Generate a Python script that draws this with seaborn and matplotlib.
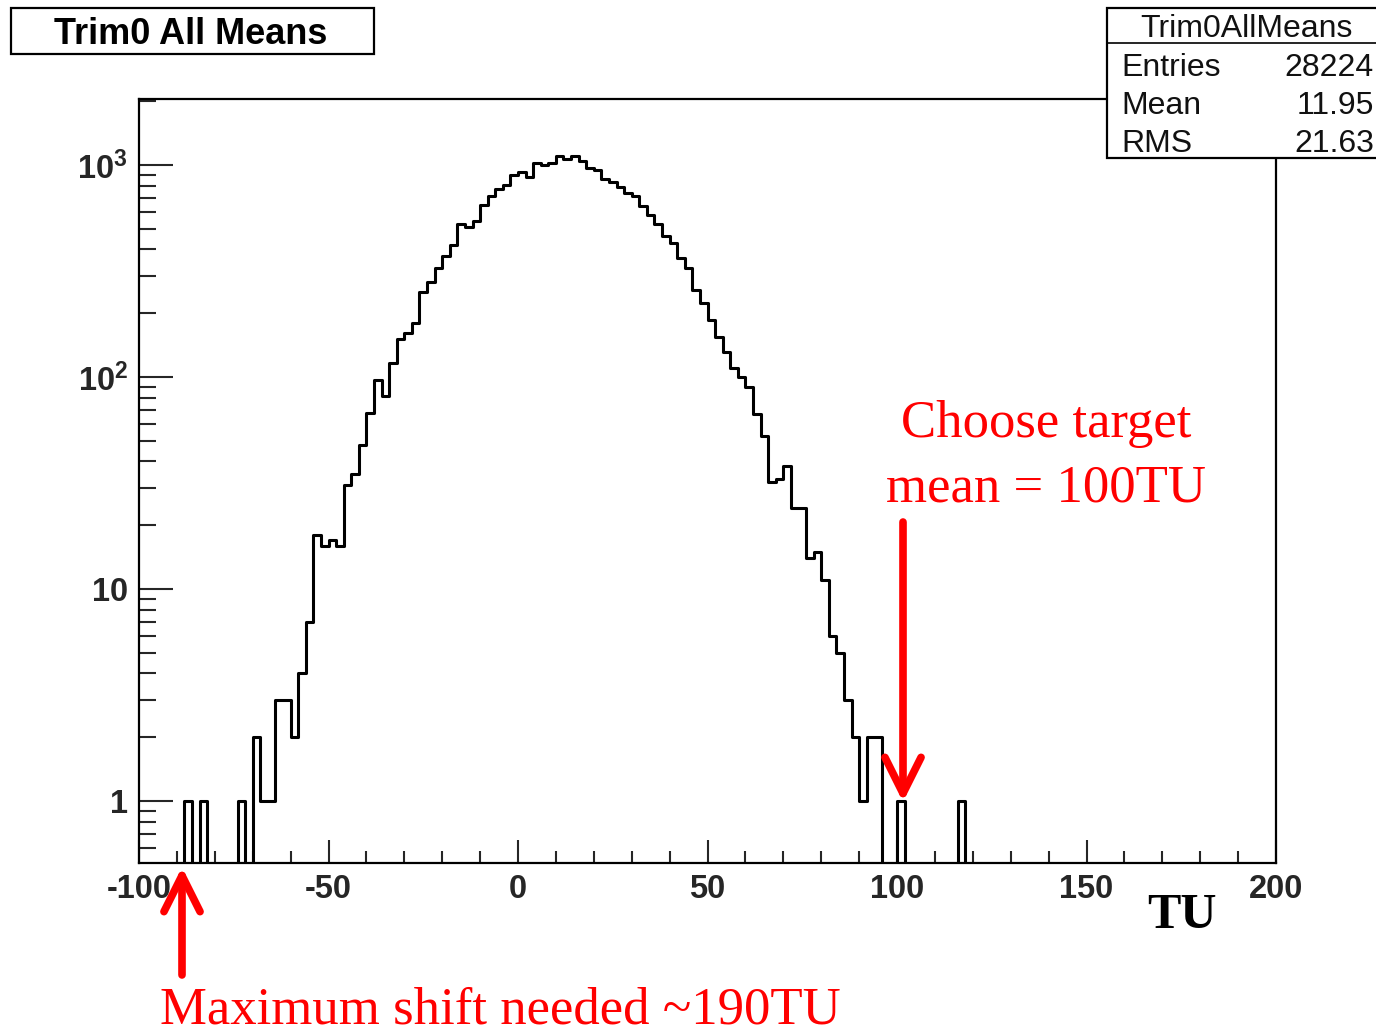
import numpy as np
import pandas as pd
import matplotlib
matplotlib.use("Agg")
import matplotlib.pyplot as plt
import seaborn as sns
from matplotlib.patches import Rectangle
from matplotlib.lines import Line2D
from matplotlib.ticker import FixedLocator, FixedFormatter, LogLocator, MultipleLocator, NullFormatter

# ---------------- data ----------------
x_min, x_max, bin_width = -100, 200, 2
# left edges of non-empty bins and their counts
bin_starts = [-88, -84, -74, -70, -68, -66, -64, -62, -60, -58, -56, -54, -52, -50, -48,
              -46, -44, -42, -40, -38, -36, -34, -32, -30, -28, -26, -24, -22, -20, -18,
              -16, -14, -12, -10, -8, -6, -4, -2, 0, 2, 4, 6, 8, 10, 12, 14, 16, 18, 20,
              22, 24, 26, 28, 30, 32, 34, 36, 38, 40, 42, 44, 46, 48, 50, 52, 54, 56, 58,
              60, 62, 64, 66, 68, 70, 72, 74, 76, 78, 80, 82, 84, 86, 88, 90, 92, 94,
              100, 116]
bin_counts = [1, 1, 1, 2, 1, 1, 3, 3, 2, 4, 7, 18, 16, 17, 16,
              31, 35, 48, 68, 97, 81, 116, 152, 161, 179, 253, 280, 328, 371, 419,
              527, 512, 544, 646, 714, 768, 808, 900, 924, 875, 1019, 1000, 1019, 1102, 1067, 1102, 1048, 968, 947,
              857, 829, 790, 735, 714, 643, 581, 527, 462, 430, 363, 326, 258, 224, 186, 155, 131, 110, 100,
              90, 67, 53, 32, 33, 38, 24, 24, 14, 15, 11, 6, 5, 3, 2, 1, 2, 2,
              1, 1]

hist_name = "Trim0AllMeans"
title = "Trim0 All Means"
stat_labels = ["Entries", "Mean", "RMS"]
stat_values = ["28224", "11.95", "21.63"]
x_ticks = [-100, -50, 0, 50, 100, 150, 200]
y_ticks = [1, 10, 100, 1000]
y_tick_labels = [r"$\mathbf{1}$", r"$\mathbf{10}$", r"$\mathbf{10^{2}}$", r"$\mathbf{10^{3}}$"]
note_target_1 = "Choose target"
note_target_2 = "mean = 100TU"
note_shift = "Maximum shift needed ~190TU"
x_unit = "TU"

df = pd.DataFrame({"x": np.array(bin_starts, dtype=float) + bin_width / 2,
                   "w": np.array(bin_counts, dtype=float)})

# ---------------- figure ----------------
W, H = 1376, 1033
sns.set_style("white")
plt.rcParams["font.family"] = ["Liberation Sans", "DejaVu Sans"]
plt.rcParams["mathtext.fontset"] = "custom"
plt.rcParams["mathtext.rm"] = "Liberation Sans"
plt.rcParams["mathtext.bf"] = "Liberation Sans:bold"

fig = plt.figure(figsize=(W / 100, H / 100), dpi=100)
fig.patch.set_facecolor("white")
L, R, T, B = 139, 1276, 99, 863
ax = fig.add_axes([L / W, 1 - B / H, (R - L) / W, (B - T) / H])

sns.histplot(data=df, x="x", weights="w", binwidth=bin_width, binrange=(x_min, x_max),
             element="step", fill=False, color="black", linewidth=2.2, ax=ax)
ax.set_yscale("log")
ax.set_xlim(x_min, x_max)
ax.set_ylim(0.51, 2050)
ax.set_xlabel("")
ax.set_ylabel("")

for s in ax.spines.values():
    s.set_linewidth(1.6)
    s.set_color("black")

ax.xaxis.set_major_locator(FixedLocator(x_ticks))
ax.xaxis.set_major_formatter(FixedFormatter([str(v) for v in x_ticks]))
ax.xaxis.set_minor_locator(MultipleLocator(10))
ax.yaxis.set_major_locator(FixedLocator(y_ticks))
ax.yaxis.set_major_formatter(FixedFormatter(y_tick_labels))
ax.yaxis.set_minor_locator(LogLocator(base=10, subs=np.arange(2, 10)))
ax.yaxis.set_minor_formatter(NullFormatter())
ax.tick_params(axis="x", which="major", direction="in", length=16.5, width=1.5,
               labelsize=23.5, pad=8, bottom=True, top=False)
ax.tick_params(axis="x", which="minor", direction="in", length=8.6, width=1.5,
               bottom=True, top=False)
ax.tick_params(axis="y", which="major", direction="in", length=24.5, width=1.5,
               labelsize=23.5, pad=8, left=True, right=False)
ax.tick_params(axis="y", which="minor", direction="in", length=12.2, width=1.5,
               left=True, right=False)
for lab in ax.get_xticklabels():
    lab.set_fontweight("bold")

# ---------------- title box ----------------
def fx(px):
    return px / W

def fy(py):
    return 1 - py / H

fig.add_artist(Rectangle((fx(11), fy(54)), fx(374) - fx(11), fy(8) - fy(54),
                         transform=fig.transFigure, facecolor="white",
                         edgecolor="black", linewidth=1.6))
fig.text(fx(191), fy(35), title, ha="center", va="center", fontsize=26,
         fontweight="bold", color="black")

# ---------------- stats box ----------------
fig.add_artist(Rectangle((fx(1107), fy(158)), fx(1400) - fx(1107), fy(8) - fy(158),
                         transform=fig.transFigure, facecolor="white",
                         edgecolor="black", linewidth=1.6, zorder=5))
fig.add_artist(Line2D([fx(1107), fx(1400)], [fy(43), fy(43)], transform=fig.transFigure,
                      color="black", linewidth=1.2, zorder=6))
fig.text(fx(1246), fy(29), hist_name, ha="center", va="center", fontsize=23,
         color="#111111", zorder=7)
for i, (lab, val) in enumerate(zip(stat_labels, stat_values)):
    yy = fy(68 + i * 38)
    fig.text(fx(1121), yy, lab, ha="left", va="center", fontsize=23, color="#111111", zorder=7)
    fig.text(fx(1374), yy, val, ha="right", va="center", fontsize=23, color="#111111", zorder=7)

# ---------------- annotations ----------------
serif = ["Liberation Serif", "DejaVu Serif"]
fig.text(fx(1046), fy(424), note_target_1, ha="center", va="center", fontsize=38,
         family=serif, color="red")
fig.text(fx(1046), fy(488), note_target_2, ha="center", va="center", fontsize=38,
         family=serif, color="red")
fig.text(fx(500), fy(1010), note_shift, ha="center", va="center", fontsize=38,
         family=serif, color="red")
fig.text(fx(1182), fy(916), x_unit, ha="center", va="center", fontsize=36,
         family=serif, fontweight="bold", color="black")

arrow_style = "->,head_length=1.3,head_width=0.65"
ax.annotate("", xy=(903, H - 802), xytext=(903, H - 522), xycoords="figure pixels",
            textcoords="figure pixels",
            arrowprops=dict(arrowstyle=arrow_style, color="red", lw=5.5, mutation_scale=20,
                            shrinkA=0, shrinkB=0))
ax.annotate("", xy=(182, H - 867), xytext=(182, H - 975), xycoords="figure pixels",
            textcoords="figure pixels", annotation_clip=False,
            arrowprops=dict(arrowstyle=arrow_style, color="red", lw=5.5, mutation_scale=20,
                            shrinkA=0, shrinkB=0))

fig.savefig("out.png", dpi=100, facecolor="white")
